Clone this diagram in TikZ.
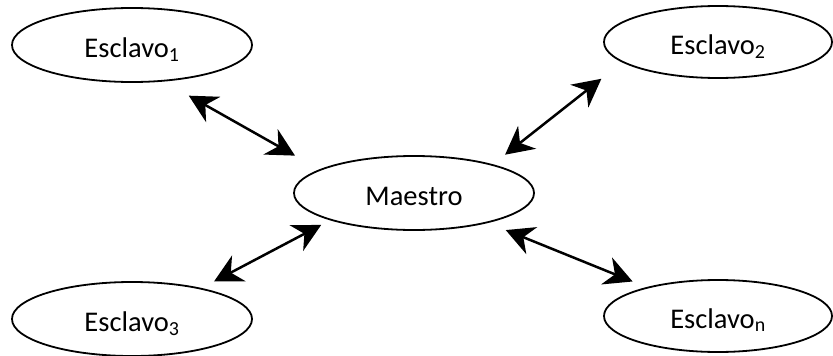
\documentclass[tikz,border=0pt]{standalone}
\usepackage{fontspec}
\setmainfont{Carlito}
\usetikzlibrary{shapes.geometric,arrows.meta}
\begin{document}
\begin{tikzpicture}[x=1pt,y=-1pt,
  blob/.style={draw=black, line width=1.8pt, ellipse, inner sep=0pt,
    minimum width=240pt, minimum height=74pt,
    text height=24.5pt, text depth=0pt,
    font=\fontsize{28.5}{34}\selectfont},
  smallblob/.style={blob, minimum width=228pt, minimum height=72pt},
  link/.style={line width=2.5pt, {Stealth[length=28pt,width=29pt,inset=9pt]}-{Stealth[length=28pt,width=29pt,inset=9pt]}}
]
\useasboundingbox (0,0) rectangle (833,356);

% master in the middle, slaves at the corners
\node[blob] (m)  at (414,193) {Maestro};
\node[blob] (e1) at (132,45)  {Esclavo\textsubscript{1}};
\node[smallblob] (e2) at (718,42)  {Esclavo\textsubscript{2}};
\node[blob] (e3) at (132,319) {Esclavo\textsubscript{3}};
\node[smallblob] (en) at (718,316) {Esclavo\textsubscript{n}};

% two-way links
\draw[link, shorten <=28.7pt, shorten >=28pt]   (e1.-49)  -- (m.166);
\draw[link, shorten <=26.5pt, shorten >=15.5pt] (e2.192)  -- (m.20);
\draw[link, shorten <=14pt,   shorten >=10pt]   (e3.24)   -- (m.198);
\draw[link, shorten <=15pt,   shorten >=19pt]   (en.158)  -- (m.-22);
\end{tikzpicture}
\end{document}
